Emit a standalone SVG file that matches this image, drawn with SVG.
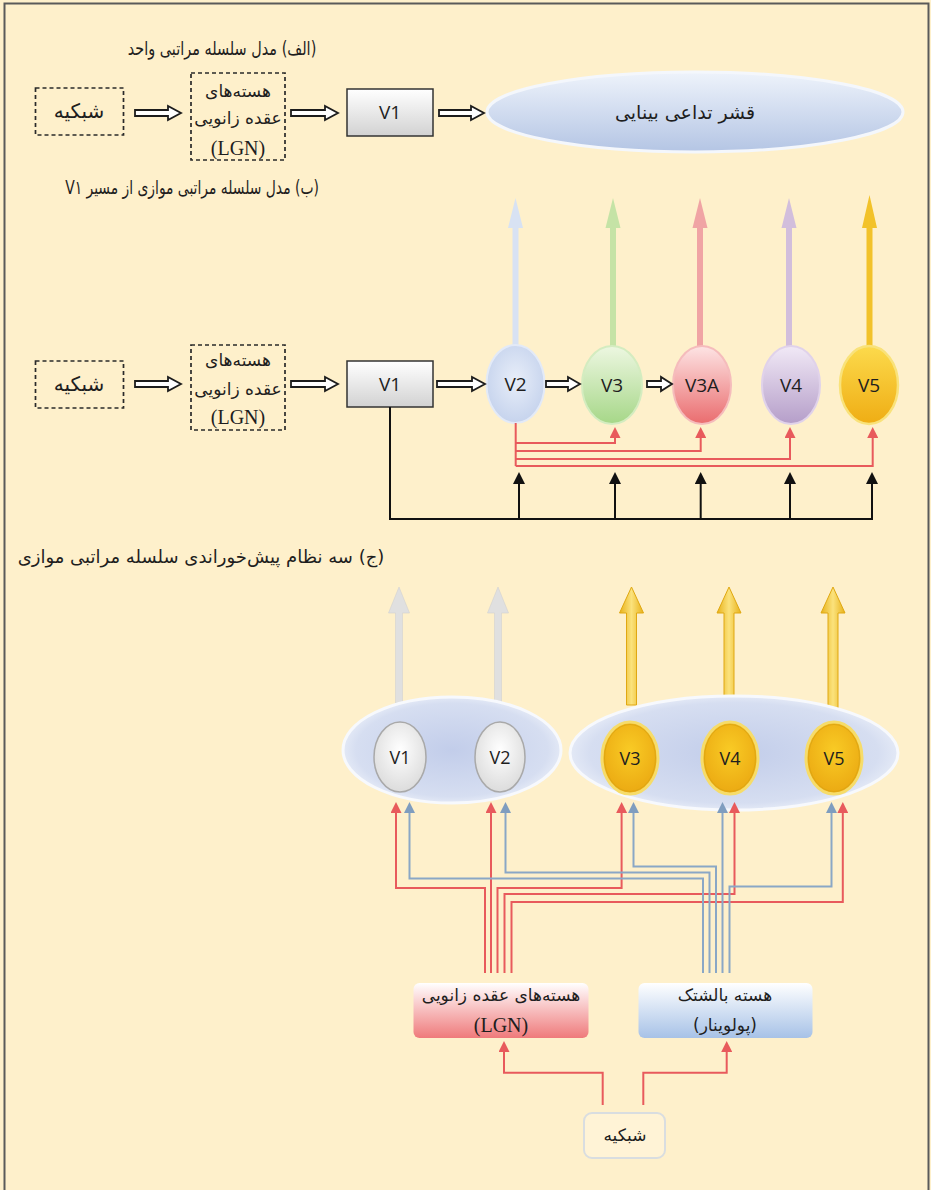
<svg xmlns="http://www.w3.org/2000/svg" width="931" height="1190" viewBox="0 0 931 1190">
  <style>
    .fa { font-family: "DejaVu Sans", "Noto Sans", sans-serif; fill: #1e1e1e; direction: rtl; text-anchor: middle; }
    .lat { font-family: "Open Sans", "Liberation Sans", sans-serif; fill: #1e1e1e; text-anchor: middle; }
    .ser { font-family: "Liberation Serif", serif; fill: #1e1e1e; text-anchor: middle; }
    .dash { fill: none; stroke: #2a2a2a; stroke-width: 1.7; stroke-dasharray: 4 3; }
    .dbl { fill: #ffffff; stroke: #1c1c1c; stroke-width: 1.8; stroke-linejoin: miter; }
    .red { fill: none; stroke: #E85A5C; stroke-width: 2; }
    .blue { fill: none; stroke: #8AA7C6; stroke-width: 2; }
    .blk { fill: none; stroke: #111; stroke-width: 2; }
  </style>
  <defs>
    <linearGradient id="gBox" x1="0" y1="0" x2="0" y2="1">
      <stop offset="0" stop-color="#ffffff"/>
      <stop offset="1" stop-color="#d2d2d2"/>
    </linearGradient>
    <linearGradient id="gAssoc" x1="0" y1="0" x2="0" y2="1">
      <stop offset="0" stop-color="#eef3fb"/>
      <stop offset="1" stop-color="#b4c5e4"/>
    </linearGradient>
    <radialGradient id="gV2" cx="0.5" cy="0.45" r="0.6">
      <stop offset="0" stop-color="#e8eef9"/>
      <stop offset="1" stop-color="#c3d1ec"/>
    </radialGradient>
    <linearGradient id="gV3" x1="0" y1="0" x2="0" y2="1">
      <stop offset="0" stop-color="#edf7e1"/>
      <stop offset="1" stop-color="#a6d788"/>
    </linearGradient>
    <linearGradient id="gV3A" x1="0" y1="0" x2="0" y2="1">
      <stop offset="0" stop-color="#fde4e4"/>
      <stop offset="1" stop-color="#ea6c6e"/>
    </linearGradient>
    <linearGradient id="gV4" x1="0" y1="0" x2="0" y2="1">
      <stop offset="0" stop-color="#f1e9f6"/>
      <stop offset="1" stop-color="#b59ec9"/>
    </linearGradient>
    <linearGradient id="gV5" x1="0" y1="0" x2="0" y2="1">
      <stop offset="0" stop-color="#fcda4c"/>
      <stop offset="1" stop-color="#efad14"/>
    </linearGradient>
    <radialGradient id="gGroup" cx="0.5" cy="0.5" r="0.55">
      <stop offset="0" stop-color="#c2cdea"/>
      <stop offset="0.8" stop-color="#d6def1"/>
      <stop offset="1" stop-color="#eef2fa"/>
    </radialGradient>
    <radialGradient id="gGray" cx="0.5" cy="0.4" r="0.6">
      <stop offset="0" stop-color="#ffffff"/>
      <stop offset="1" stop-color="#dcdcdc"/>
    </radialGradient>
    <radialGradient id="gGold" cx="0.5" cy="0.4" r="0.6">
      <stop offset="0" stop-color="#f9cb25"/>
      <stop offset="1" stop-color="#eba912"/>
    </radialGradient>
    <linearGradient id="gGoldArrow" x1="0" y1="0" x2="1" y2="0">
      <stop offset="0" stop-color="#e8b21a"/>
      <stop offset="0.5" stop-color="#fbe27c"/>
      <stop offset="1" stop-color="#e8b21a"/>
    </linearGradient>
    <linearGradient id="gLGN" x1="0" y1="0" x2="0" y2="1">
      <stop offset="0" stop-color="#ffffff"/>
      <stop offset="1" stop-color="#ef7a7b"/>
    </linearGradient>
    <linearGradient id="gPul" x1="0" y1="0" x2="0" y2="1">
      <stop offset="0" stop-color="#ffffff"/>
      <stop offset="1" stop-color="#a7c2e7"/>
    </linearGradient>
    <marker id="mRed" viewBox="0 0 10 10" refX="0" refY="5" markerWidth="11" markerHeight="11" markerUnits="userSpaceOnUse" orient="auto">
      <path d="M0,0 L10,5 L0,10 z" fill="#E85A5C"/>
    </marker>
    <marker id="mBlue" viewBox="0 0 10 10" refX="0" refY="5" markerWidth="11" markerHeight="11" markerUnits="userSpaceOnUse" orient="auto">
      <path d="M0,0 L10,5 L0,10 z" fill="#7f9dbf"/>
    </marker>
    <marker id="mBlk" viewBox="0 0 10 10" refX="0" refY="5" markerWidth="13" markerHeight="12" markerUnits="userSpaceOnUse" orient="auto">
      <path d="M0,0 L10,5 L0,10 z" fill="#111"/>
    </marker>
  </defs>

  <!-- page -->
  <rect x="0" y="0" width="931" height="1190" fill="#FEF0CB"/>
  <rect x="4.5" y="3.5" width="924" height="1200" fill="none" stroke="#5a5a5a" stroke-width="2"/>

  <!-- ===== part A: single hierarchical chain ===== -->
  <text class="fa" transform="translate(222,55) scale(0.76,1)" font-size="19">(الف) مدل سلسله مراتبی واحد</text>

  <g id="a-retina">
    <rect class="dash" x="35.5" y="88" width="88" height="47"/>
    <text class="fa" x="79" y="118" font-size="20">شبکیه</text>
  </g>
  <g id="a-lgn">
    <rect class="dash" x="191" y="73" width="94" height="87"/>
    <text class="fa" x="238" y="97" font-size="17">هسته‌های</text>
    <text class="fa" x="238" y="124" font-size="17">عقده زانویی</text>
    <text class="ser" x="238" y="155" font-size="20">(LGN)</text>
  </g>
  <g id="a-v1">
    <rect x="347" y="89" width="86" height="47" fill="url(#gBox)" stroke="#333" stroke-width="1.5"/>
    <text class="lat" x="390" y="119" font-size="19">V1</text>
  </g>
  <g id="a-assoc">
    <ellipse cx="695" cy="112" rx="208" ry="40" fill="url(#gAssoc)" stroke="#f4f7fc" stroke-width="3"/>
    <text class="fa" x="685" y="119" font-size="19">قشر تداعی بینایی</text>
  </g>
  <g id="a-links">
    <path class="dbl" d="M135,110 H168 V106 L181,113 L168,120 V116 H135 Z"/>
    <path class="dbl" d="M291,110 H325 V106 L338,113 L325,120 V116 H291 Z"/>
    <path class="dbl" d="M439,110 H471 V106 L484,113 L471,120 V116 H439 Z"/>
  </g>

  <!-- ===== part B: parallel hierarchy from V1 ===== -->
  <text class="fa" transform="translate(192,194) scale(0.73,1)" font-size="19">(ب) مدل سلسله مراتبی موازی از مسیر V۱</text>

  <!-- output arrows above the areas -->
  <g id="b-outputs">
    <path d="M512.5,346 V228 H508 L515.5,198 L523,228 H518.5 V346 Z" fill="#d8e2f3"/>
    <path d="M610,346 V228 H605.5 L613,198 L620.5,228 H616 V346 Z" fill="#c5e3a6"/>
    <path d="M697,346 V228 H692.5 L700,198 L707.5,228 H703 V346 Z" fill="#f0a4a4"/>
    <path d="M786,346 V228 H781.5 L789,198 L796.5,228 H792 V346 Z" fill="#d2bedc"/>
    <path d="M866.5,346 V228 H862 L869.5,195 L877,228 H872.5 V346 Z" fill="#f2c22a"/>
  </g>

  <g id="b-retina">
    <rect class="dash" x="35.5" y="361" width="88" height="47"/>
    <text class="fa" x="79" y="391" font-size="20">شبکیه</text>
  </g>
  <g id="b-lgn">
    <rect class="dash" x="191" y="345" width="94" height="85"/>
    <text class="fa" x="238" y="366" font-size="17">هسته‌های</text>
    <text class="fa" x="238" y="395" font-size="17">عقده زانویی</text>
    <text class="ser" x="238" y="424" font-size="20">(LGN)</text>
  </g>
  <g id="b-v1">
    <rect x="347" y="361" width="86" height="46" fill="url(#gBox)" stroke="#333" stroke-width="1.5"/>
    <text class="lat" x="390" y="391" font-size="19">V1</text>
  </g>
  <g id="b-v2">
    <ellipse cx="515.5" cy="384" rx="29" ry="39" fill="url(#gV2)" stroke="#e3eaf7" stroke-width="2"/>
    <text class="lat" x="515.5" y="391" font-size="19">V2</text>
  </g>
  <g id="b-v3">
    <ellipse cx="612" cy="385" rx="30" ry="39" fill="url(#gV3)" stroke="#d4ecc0" stroke-width="2"/>
    <text class="lat" x="612" y="392" font-size="19">V3</text>
  </g>
  <g id="b-v3a">
    <ellipse cx="702" cy="385" rx="29" ry="39" fill="url(#gV3A)" stroke="#f5bcbc" stroke-width="2"/>
    <text class="lat" x="702" y="392" font-size="19">V3A</text>
  </g>
  <g id="b-v4">
    <ellipse cx="791" cy="385" rx="29" ry="39" fill="url(#gV4)" stroke="#e0d2ea" stroke-width="2"/>
    <text class="lat" x="791" y="392" font-size="19">V4</text>
  </g>
  <g id="b-v5">
    <ellipse cx="869" cy="385" rx="29" ry="39" fill="url(#gV5)" stroke="#f9e27a" stroke-width="2.5"/>
    <text class="lat" x="869" y="392" font-size="19">V5</text>
  </g>

  <g id="b-links">
    <path class="dbl" d="M135,381 H168 V377 L181,384 L168,391 V387 H135 Z"/>
    <path class="dbl" d="M291,381 H325 V377 L338,384 L325,391 V387 H291 Z"/>
    <path class="dbl" d="M437,381 H472 V377 L485,384 L472,391 V387 H437 Z"/>
    <path class="dbl" d="M546,381 H568 V377 L580,384 L568,391 V387 H546 Z"/>
    <path class="dbl" d="M647,381 H661 V377 L672,384 L661,391 V387 H647 Z"/>
    <!-- V2 to later areas -->
    <path class="red" d="M515.7,423 V466"/>
    <path class="red" d="M515.7,443 H615 V438" marker-end="url(#mRed)"/>
    <path class="red" d="M515.7,451 H700.7 V438" marker-end="url(#mRed)"/>
    <path class="red" d="M515.7,459 H790 V438" marker-end="url(#mRed)"/>
    <path class="red" d="M515.7,466 H872.7 V438" marker-end="url(#mRed)"/>
    <!-- V1 direct feed -->
    <path class="blk" d="M390,407 V519 H873"/>
    <path class="blk" d="M519,519 V484" marker-end="url(#mBlk)"/>
    <path class="blk" d="M615,519 V484" marker-end="url(#mBlk)"/>
    <path class="blk" d="M700.7,519 V484" marker-end="url(#mBlk)"/>
    <path class="blk" d="M790,519 V484" marker-end="url(#mBlk)"/>
    <path class="blk" d="M872,519 V484" marker-end="url(#mBlk)"/>
  </g>

  <!-- ===== part C: three parallel feed-forward systems ===== -->
  <text class="fa" x="201" y="563" font-size="18">(ج) سه نظام پیش‌خوراندی سلسله مراتبی موازی</text>

  <g id="c-outputs">
    <path d="M395.5,703 V613 H388.5 L399,587 L409.5,613 H402.5 V703 Z" fill="#e0e0e0" stroke="#d2d2d2" stroke-width="0.6"/>
    <path d="M494.5,703 V613 H487.5 L498,587 L508.5,613 H501.5 V703 Z" fill="#e0e0e0" stroke="#d2d2d2" stroke-width="0.6"/>
    <path d="M626.5,705 V613 H619.5 L631.5,587 L643.5,613 H636.5 V705 Z" fill="url(#gGoldArrow)" stroke="#e0a812" stroke-width="1"/>
    <path d="M724,705 V613 H717 L729,587 L741,613 H734 V705 Z" fill="url(#gGoldArrow)" stroke="#e0a812" stroke-width="1"/>
    <path d="M828,708 V613 H821 L833,587 L845,613 H838 V708 Z" fill="url(#gGoldArrow)" stroke="#e0a812" stroke-width="1"/>
  </g>

  <g id="c-group-left">
    <ellipse cx="452" cy="750" rx="109" ry="53" fill="url(#gGroup)" stroke="#f7f9fd" stroke-width="3"/>
  </g>
  <g id="c-group-right">
    <ellipse cx="734" cy="753" rx="164" ry="57" fill="url(#gGroup)" stroke="#f7f9fd" stroke-width="3"/>
  </g>
  <g id="c-v1">
    <ellipse cx="400" cy="757" rx="26" ry="35" fill="url(#gGray)" stroke="#a9a9a9" stroke-width="1.5"/>
    <text class="lat" x="400" y="764" font-size="18">V1</text>
  </g>
  <g id="c-v2">
    <ellipse cx="500" cy="757" rx="25" ry="35" fill="url(#gGray)" stroke="#a9a9a9" stroke-width="1.5"/>
    <text class="lat" x="500" y="764" font-size="18">V2</text>
  </g>
  <g id="c-v3">
    <ellipse cx="630" cy="758" rx="28" ry="36" fill="url(#gGold)" stroke="#f6dc6a" stroke-width="3"/>
    <ellipse cx="630" cy="758" rx="25.5" ry="33.5" fill="none" stroke="#d9a313" stroke-width="0.8"/>
    <text class="lat" x="630" y="765" font-size="18">V3</text>
  </g>
  <g id="c-v4">
    <ellipse cx="730" cy="758" rx="28" ry="36" fill="url(#gGold)" stroke="#f6dc6a" stroke-width="3"/>
    <ellipse cx="730" cy="758" rx="25.5" ry="33.5" fill="none" stroke="#d9a313" stroke-width="0.8"/>
    <text class="lat" x="730" y="765" font-size="18">V4</text>
  </g>
  <g id="c-v5">
    <ellipse cx="834" cy="758" rx="28" ry="36" fill="url(#gGold)" stroke="#f6dc6a" stroke-width="3"/>
    <ellipse cx="834" cy="758" rx="25.5" ry="33.5" fill="none" stroke="#d9a313" stroke-width="0.8"/>
    <text class="lat" x="834" y="765" font-size="18">V5</text>
  </g>

  <g id="c-lgn">
    <rect x="413.5" y="983" width="175" height="55" rx="6" fill="url(#gLGN)"/>
    <text class="fa" x="501" y="1001" font-size="17">هسته‌های عقده زانویی</text>
    <text class="ser" x="501" y="1032" font-size="20">(LGN)</text>
  </g>
  <g id="c-pulvinar">
    <rect x="638.5" y="983" width="174" height="55" rx="6" fill="url(#gPul)"/>
    <text class="fa" x="725" y="1001" font-size="17">هسته بالشتک</text>
    <text class="fa" x="725" y="1031" font-size="17">(پولوینار)</text>
  </g>
  <g id="c-retina">
    <rect x="584" y="1113" width="81" height="45" rx="8" fill="#fff3d6" stroke="#d9dde0" stroke-width="2"/>
    <text class="fa" x="625" y="1141" font-size="17">شبکیه</text>
  </g>

  <g id="c-links">
    <!-- LGN projections -->
    <path class="red" d="M485,973 V888 H396 V813" marker-end="url(#mRed)"/>
    <path class="red" d="M491,973 V813" marker-end="url(#mRed)"/>
    <path class="red" d="M497.5,973 V888 H621.6 V813" marker-end="url(#mRed)"/>
    <path class="red" d="M504.5,973 V894 H734.5 V813" marker-end="url(#mRed)"/>
    <path class="red" d="M511.5,973 V902 H842.8 V813" marker-end="url(#mRed)"/>
    <!-- pulvinar projections -->
    <path class="blue" d="M703,973 V878.5 H409.5 V813" marker-end="url(#mBlue)"/>
    <path class="blue" d="M709.5,973 V872.5 H505.5 V813" marker-end="url(#mBlue)"/>
    <path class="blue" d="M716,973 V866.5 H633.5 V813" marker-end="url(#mBlue)"/>
    <path class="blue" d="M722.5,973 V813" marker-end="url(#mBlue)"/>
    <path class="blue" d="M729.5,973 V886.5 H831.5 V813" marker-end="url(#mBlue)"/>
    <!-- retina to thalamus -->
    <path class="red" d="M602.7,1105 V1072.7 H504 V1052" marker-end="url(#mRed)"/>
    <path class="red" d="M643.3,1105 V1072.7 H726.7 V1052" marker-end="url(#mRed)"/>
  </g>
</svg>
